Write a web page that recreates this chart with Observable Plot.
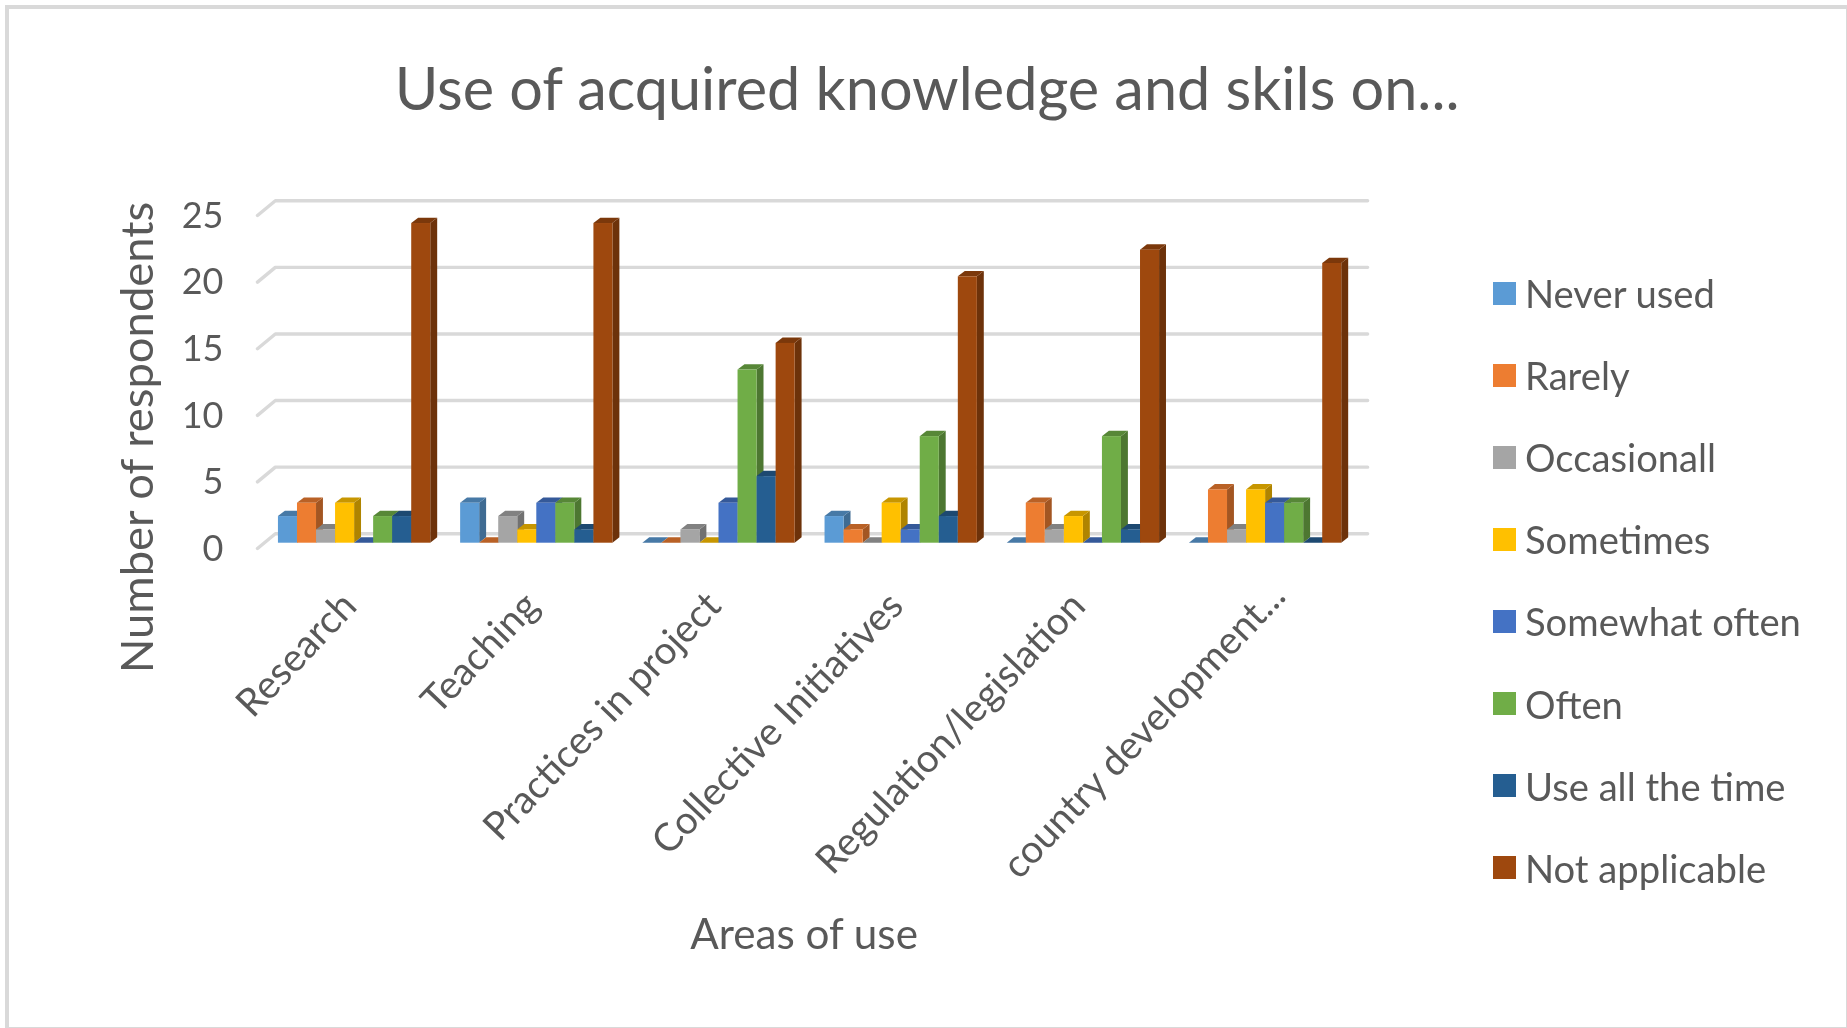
<!DOCTYPE html>
<html><head><meta charset="utf-8">
<script src="https://cdn.jsdelivr.net/npm/d3@7"></script>
<script src="https://cdn.jsdelivr.net/npm/@observablehq/plot@0.6"></script>
<style>
html,body{margin:0;background:#fff;width:1847px;height:1028px;overflow:hidden}
#frame{position:absolute;left:5px;top:5px;width:1842px;height:1023px;box-sizing:border-box;border:solid #d9d9d9;border-width:4px 1px 1px 4px}
#chart{position:absolute;left:0;top:0;filter:blur(0.6px)}
#legend{position:absolute;left:1493px;top:0;font:38.2px Lato,sans-serif;color:#595959;filter:blur(0.6px)}
.item{position:absolute;white-space:nowrap;height:40px;line-height:40px;display:flex;align-items:center}
.item i{display:inline-block;width:23px;height:23px;margin-right:9px}
</style></head><body>
<div id="frame"></div><div id="chart"></div><div id="legend"></div>
<script>
const categories = ["Research","Teaching","Practices in project","Collective Initiatives","Regulation/legislation","country development..."];
const seriesNames = ["Never used","Rarely","Occasionall","Sometimes","Somewhat often","Often","Use all the time","Not applicable"];
const neverUsed = [2,3,0,2,0,0];
const rarely = [3,0,0,1,3,4];
const occasionall = [1,2,1,0,1,1];
const sometimes = [3,1,0,3,2,4];
const somewhatOften = [0,3,3,1,0,3];
const often = [2,3,13,8,8,3];
const useAllTheTime = [2,1,5,2,1,0];
const notApplicable = [24,24,15,20,22,21];
const seriesValues = [neverUsed,rarely,occasionall,sometimes,somewhatOften,often,useAllTheTime,notApplicable];
const colors = ["#5B9BD5","#ED7D31","#A5A5A5","#FFC000","#4472C4","#70AD47","#255E91","#9E480E"];
const yTicks = [0,5,10,15,20,25];

// layout of the category axis, in scale units (one unit = one category)
const barSpan = 0.836, gap = (1 - barSpan) / 2, barW = barSpan / 8;
const depthX = 0.038, depthY = 0.4;      // depth of a bar
const wallX = 0.098, wallY = 0.71, floorY = -0.4; // depth of the grid walls
const xLeft = -0.033, wallEnd = 6.06;

const bars = seriesValues.map((vals, s) => vals.map((v, g) => {
  const x1 = g + gap + s * barW;
  return {category: categories[g], series: seriesNames[s], v, x1, x2: x1 + barW, key: g};
}));
const sideFace = d => [
  {key: d.key, x: d.x2, y1: 0, y2: d.v},
  {key: d.key, x: d.x2 + depthX, y1: depthY, y2: d.v + depthY}];
const topFace = d => [
  {key: d.key, y: d.v, x1: d.x1, x2: d.x2},
  {key: d.key, y: d.v + depthY, x1: d.x1 + depthX, x2: d.x2 + depthX}];

const grid = yTicks.flatMap(t => [
  {t, x: xLeft, y: t + floorY},
  {t, x: xLeft + wallX, y: t + wallY},
  {t, x: wallEnd, y: t + wallY}]);

const barMarks = bars.flatMap((rows, s) => {
  const c = d3.color(colors[s]);
  return [
    Plot.areaY(rows.flatMap(sideFace), {x:"x", y1:"y1", y2:"y2", z:"key", fill: c.darker(1.05).formatHex()}),
    Plot.areaX(rows.flatMap(topFace), {y:"y", x1:"x1", x2:"x2", z:"key", fill: c.darker(0.7).formatHex()}),
    Plot.rect(rows, {x1:"x1", x2:"x2", y1:0, y2:"v", fill: colors[s]})
  ];
});

const FONT = "Lato, sans-serif", INK = "#595959";
const xTicks = categories.map((c,i)=>i+0.5);
const xAxisOptions = {anchor:"bottom", tickSize:0, tickRotate:-46.5, tickFormat:d=>categories[d-0.5], label:null, fontSize:38.8, fill:INK};
const plot = Plot.plot({
  width: 1847, height: 1028,
  marginLeft: 263, marginRight: 490.8, marginTop: 209.7, marginBottom: 485.3,
  style: {fontFamily: FONT, fontSize: "36px", color: INK, background: "transparent"},
  x: {domain: [0, 6]},
  y: {domain: [0, 25]},
  marks: [
    Plot.line(grid, {x:"x", y:"y", z:"t", stroke:"#d9d9d9", strokeWidth:3.4}),
    ...barMarks,
    Plot.axisY(yTicks, {anchor:"left", tickSize:0, tickPadding:40, dy:6, label:null, fontSize:36, fill:INK}),
    Plot.axisX(xTicks.slice(0,5), {...xAxisOptions, tickPadding:56, dx:-5}),
    Plot.axisX(xTicks.slice(5), {...xAxisOptions, tickPadding:46, dx:13}),
    Plot.text(["Number of respondents"], {frameAnchor:"left", dx:-125, dy:296.5, rotate:-90, fontSize:45.4, fill:INK}),
    Plot.text(["Areas of use"], {frameAnchor:"bottom", dx:-6, dy:406, fontSize:42.2, fill:INK}),
    Plot.text(["Use of acquired knowledge and skils on..."], {frameAnchor:"top", dx:117, dy:-142, fontSize:59.4, fill:INK})
  ]
});
document.getElementById("chart").append(plot);

const legend = document.getElementById("legend");
seriesNames.forEach((n,i)=>{
  const el=document.createElement("div");el.className="item";el.style.top=(273+i*82.1)+"px";
  const sw=document.createElement("i");sw.style.background=colors[i];
  el.append(sw,document.createTextNode(n));legend.append(el);
});
</script></body></html>
